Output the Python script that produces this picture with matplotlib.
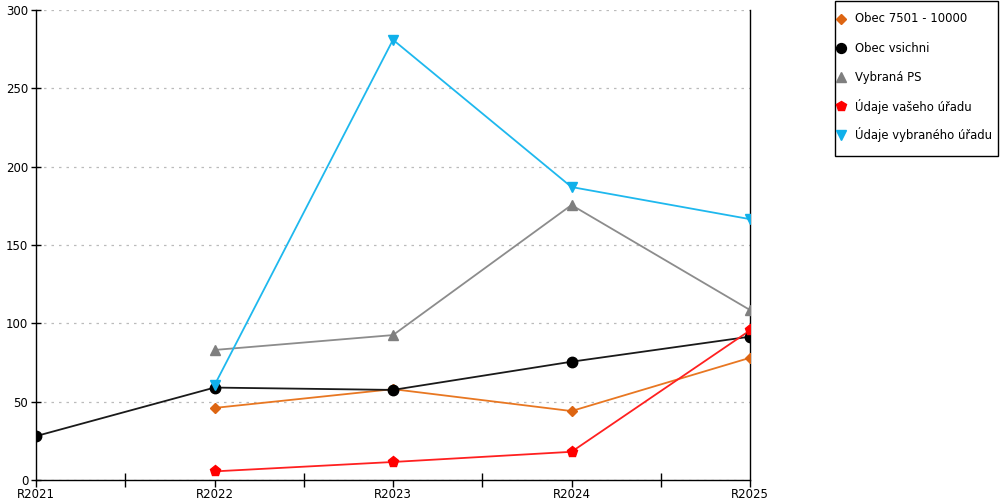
import matplotlib
matplotlib.use("Agg")
import matplotlib.pyplot as plt
from matplotlib.lines import Line2D
from matplotlib.patches import Rectangle
import numpy as np

categories = ["R2021", "R2022", "R2023", "R2024", "R2025"]
obec_7501 = [None, 46, 58, 44, 78]
obec_vsichni = [28, 59, 57.5, 75.5, 91.5]
vybrana_ps = [None, 83, 92.5, 175.5, 108.5]
udaje_vaseho = [None, 5.5, 11.5, 18, 95.5]
udaje_vybraneho = [None, 60.5, 281, 187, 166.5]

series = [
    ("Obec 7501 - 10000", obec_7501, "#E87722", "#DD6512", "D", 5.5),
    ("Obec vsichni", obec_vsichni, "#1a1a1a", "#000000", "o", 7.5),
    ("Vybraná PS", vybrana_ps, "#8c8c8c", "#7f7f7f", "^", 7.5),
    ("Údaje vašeho úřadu", udaje_vaseho, "#FF2020", "#FF0000", "p", 8),
    ("Údaje vybraného úřadu", udaje_vybraneho, "#1EB8EE", "#10B0EA", "v", 7.5),
]

W, H = 1000, 500
fig = plt.figure(figsize=(10, 5), dpi=100)
ax = fig.add_axes([0.036, 0.04, 0.714, 0.94])

x = np.arange(len(categories))
for name, vals, lc, mc, mk, ms in series:
    xs = [xi for xi, v in zip(x, vals) if v is not None]
    ys = [v for v in vals if v is not None]
    ax.plot(xs, ys, color=lc, lw=1.3, zorder=3)
    ax.plot(xs, ys, linestyle="none", marker=mk, markersize=ms,
            markerfacecolor=mc, markeredgecolor=mc, zorder=4)

ax.set_xlim(0, 4)
ax.set_ylim(0, 300)
ax.set_yticks(np.arange(0, 301, 50))
ax.set_xticks(x)
ax.set_xticklabels(categories)
ax.set_xticks([0.5, 1.5, 2.5, 3.5], minor=True)
ax.yaxis.grid(True, linestyle=(0, (2, 4)), color="#bbbbbb", lw=0.9)
ax.set_axisbelow(True)

ax.spines["top"].set_visible(False)
for s in ["left", "bottom", "right"]:
    ax.spines[s].set_color("black")
    ax.spines[s].set_linewidth(1.0)

ax.tick_params(axis="y", direction="inout", length=7, width=1, labelsize=8.5, pad=2)
ax.tick_params(axis="x", which="major", direction="out", length=5, width=1, labelsize=8.5, pad=1)
ax.tick_params(axis="x", which="minor", direction="inout", length=10, width=1)
ax.tick_params(axis="y", right=False)

# Legend drawn manually in figure pixel coordinates
box_l, box_t, box_r, box_b = 834.5, 1.5, 997.5, 155.5
fig.patches.append(Rectangle((box_l / W, 1 - box_b / H), (box_r - box_l) / W,
                             (box_b - box_t) / H, transform=fig.transFigure,
                             facecolor="white", edgecolor="black", lw=1.0))
for i, (name, vals, lc, mc, mk, ms) in enumerate(series):
    yc = 19 + 29 * i
    fig.add_artist(Line2D([841 / W], [1 - yc / H], transform=fig.transFigure,
                          linestyle="none", marker=mk, markersize=ms * 0.95,
                          markerfacecolor=mc, markeredgecolor=mc))
    fig.text(855 / W, 1 - yc / H, name, fontsize=8.4, va="center", ha="left")

fig.savefig("out.png", dpi=100)
